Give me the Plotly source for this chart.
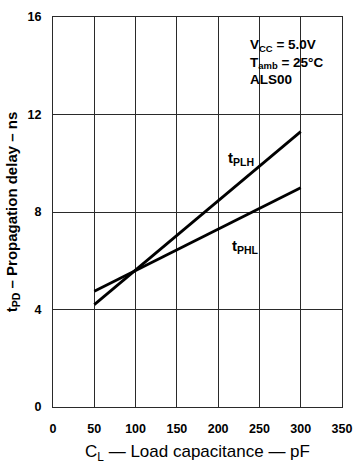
import plotly.graph_objects as go

cap_plh = [50, 300]
tplh = [4.2, 11.3]
cap_phl = [50, 300]
tphl = [4.75, 9.0]

x_ticks = [0, 50, 100, 150, 200, 250, 300, 350]
y_ticks = [0, 4, 8, 12, 16]

FONT = "Liberation Sans, Arial, sans-serif"

fig = go.Figure()
fig.add_trace(go.Scatter(x=cap_plh, y=tplh, mode="lines",
                         line=dict(color="black", width=2.8), showlegend=False))
fig.add_trace(go.Scatter(x=cap_phl, y=tphl, mode="lines",
                         line=dict(color="black", width=2.8), showlegend=False))

fig.add_annotation(x=228, y=10.2, text="t<sub>PLH</sub>", showarrow=False,
                   font=dict(family=FONT, size=15, color="black", weight="bold"))
fig.add_annotation(x=233, y=6.6, text="t<sub>PHL</sub>", showarrow=False,
                   font=dict(family=FONT, size=15, color="black", weight="bold"))
fig.add_annotation(x=236, y=15.25, xanchor="left", yanchor="top", align="left",
                   text="V<sub>CC</sub> = 5.0V<br>T<sub>amb</sub> = 25°C<br>ALS00",
                   showarrow=False,
                   font=dict(family=FONT, size=13.5, color="black", weight="bold"))

fig.update_layout(
    width=362, height=469,
    margin=dict(l=53, r=10, t=11, b=62),
    paper_bgcolor="white", plot_bgcolor="white",
    font=dict(family=FONT, color="black"),
    xaxis=dict(range=[0, 350], tickvals=x_ticks, ticktext=[str(v) for v in x_ticks],
               showgrid=True, gridcolor="#2a2a2a", gridwidth=1,
               showline=True, linecolor="#2a2a2a", linewidth=1, mirror=True,
               zeroline=False, ticks="", ticklabelstandoff=10,
               tickfont=dict(family=FONT, size=12.5, color="black", weight="bold"),
               title=dict(text="C<sub>L</sub> — Load capacitance — pF",
                          font=dict(family=FONT, size=17, color="black"), standoff=10)),
    yaxis=dict(range=[0, 16], tickvals=y_ticks, ticktext=[str(v) for v in y_ticks],
               showgrid=True, gridcolor="#2a2a2a", gridwidth=1,
               showline=True, linecolor="#2a2a2a", linewidth=1, mirror=True,
               zeroline=False, ticks="", ticklabelstandoff=8,
               tickfont=dict(family=FONT, size=12.5, color="black", weight="bold"),
               title=dict(text="t<sub>PD</sub> – Propagation delay – ns",
                          font=dict(family=FONT, size=15, color="black", weight="bold"),
                          standoff=6)),
)

fig.write_html("out.html")
